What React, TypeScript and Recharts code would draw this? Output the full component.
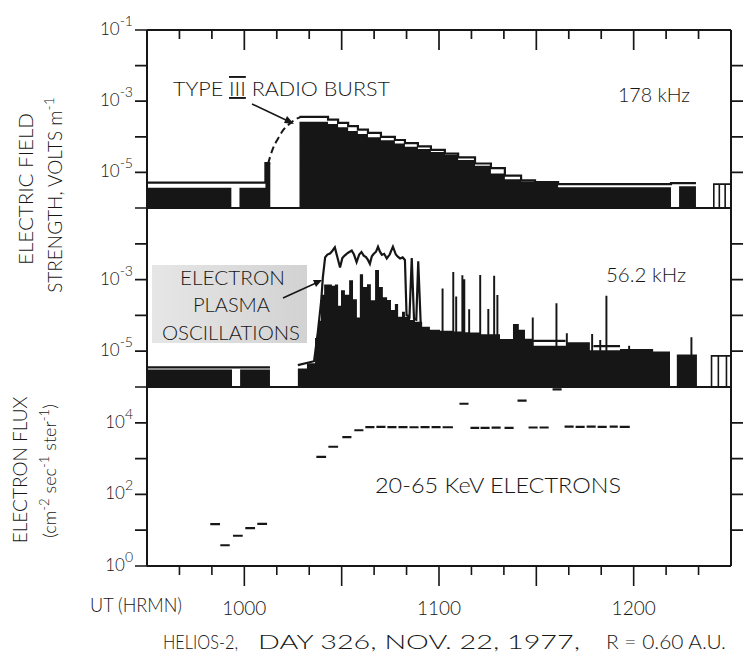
import React from 'react';
import { ComposedChart, Area, Line, XAxis, YAxis, ReferenceLine } from 'recharts';

type Pt = [number, number | null];

const FONT = "Lato, 'Open Sans', 'DejaVu Sans', sans-serif";
const INK = '#161616';

// Time axis: UT in minutes after midnight (570 = 09:30, 750 = 12:30)
const timeTicks = [570, 580, 590, 600, 610, 620, 630, 640, 650, 660, 670, 680, 690, 700, 710, 720, 730, 740, 750];
const hourLabels: Record<number, string> = { 600: '1000', 660: '1100', 720: '1200' };

// Electric field axes: log10(E, V/m)
const fieldTicks = [-6, -5, -4, -3, -2, -1];
const fieldInner = [-5, -4, -3, -2];
const field178Labels = [-1, -3, -5];
const field56Labels = [-3, -5];
// Flux axis: log10(flux)
const fluxTicks = [0, 1, 2, 3, 4, 5];
const fluxInner = [1, 2, 3, 4];
const fluxLabels = [0, 2, 4];

// 178 kHz, [UT min, log10 E]; stepped average (fill) and peak (line); null = no data
const burst178Fill: Pt[] = [
  [570, -5.43], [596, -5.43], [596.1, null], [598.5, -5.43], [606.5, -4.74], [608, -4.74], [608.1, null],
  [617, -3.58], [625.8, -3.64], [628.9, -3.73], [632, -3.84], [635, -3.92], [638.1, -4.01], [642.1, -4.1],
  [646.4, -4.19], [649.5, -4.28], [653.5, -4.34], [657.5, -4.43], [661.8, -4.51], [665.9, -4.65],
  [671.1, -4.81], [676, -5.03], [680.3, -5.19], [685.3, -5.25], [689.6, -5.3], [696.7, -5.42],
  [731.5, -5.42], [731.6, null], [734, -5.39], [739.2, -5.39], [739.3, null],
];
const burst178Peak: Pt[] = [
  [570, -5.29], [606.5, -4.74], [608, -4.74], [608.1, null],
  [617, -3.44], [625.8, -3.52], [628.9, -3.61], [632, -3.7], [635, -3.8], [638.1, -3.89], [642.1, -4.0],
  [646.4, -4.09], [649.5, -4.18], [653.5, -4.27], [657.5, -4.37], [661.8, -4.47], [665.9, -4.58],
  [671.1, -4.75], [676, -4.88], [680.3, -5.09], [685.3, -5.22], [689.6, -5.27], [696.7, -5.33],
  [731.5, -5.3], [739.2, -5.3], [739.3, null],
];
const burst178Hollow: Pt[] = [
  [744.7, -6], [744.7, -5.33], [746.4, -5.33], [746.4, -6], [746.4, -5.33], [748.2, -5.33], [748.2, -6],
  [748.2, -5.33], [750, -5.33],
];
const burstDashed: Pt[] = [
  [607.3, -4.76], [608.8, -4.33], [610.4, -4.05], [611.9, -3.82], [614.0, -3.63], [616.0, -3.5], [617.5, -3.44],
];

// 56.2 kHz, [UT min, log10 E]
const wave56Fill: Pt[] = [
  [570, -5.51], [596.2, -5.51], [596.3, null], [598.7, -5.51], [607.9, -5.51], [608, null],
  [616.5, -5.48], [619.3, -5.34], [621.8, -4.63], [622.7, -4.15], [623.6, -3.42], [624.6, -3.14],
  [627.0, -3.17], [627.9, -3.14], [628.9, -3.73], [629.8, -3.3], [631.0, -3.42], [632.3, -3.02],
  [633.5, -3.55], [634.7, -4.06], [635.6, -2.85], [636.6, -3.21], [637.8, -3.13], [639.0, -3.58],
  [640.3, -2.73], [641.5, -3.21], [642.7, -3.49], [644.0, -3.57], [645.2, -3.85], [646.4, -3.68],
  [647.4, -4.04], [648.6, -3.9], [649.5, -4.04], [651.1, -4.13], [652.6, -4.18], [654.8, -4.32],
  [657.2, -4.4], [660.3, -4.43], [660.8, -3.25], [661.4, -4.43], [664.1, -2.79], [664.7, -4.45],
  [665.0, -3.47], [665.6, -4.45], [666.9, -2.88], [667.5, -2.99], [668.1, -4.47], [669.0, -3.83],
  [669.6, -4.48], [672.4, -2.87], [673.0, -4.53], [674.9, -3.82], [675.5, -4.53], [676.7, -2.89],
  [677.3, -4.53], [677.7, -3.43], [678.3, -4.53], [678.8, -4.66], [682.8, -4.24], [684.6, -4.4],
  [686.5, -4.65], [688.6, -4.06], [689.2, -4.85], [695.9, -3.66], [696.5, -4.85], [699.1, -4.5],
  [699.7, -4.75], [706.5, -4.97], [706.9, -4.52], [707.5, -4.97], [709.4, -4.69], [710.0, -4.97],
  [711.3, -3.45], [711.9, -4.97], [715.8, -4.94], [718.3, -4.85], [718.9, -4.94], [726.0, -5.01],
  [731.2, -5.01], [731.3, null], [733.3, -5.09], [737.5, -4.61], [738.1, -5.09], [739.5, -5.09], [739.6, null],
];
const wave56Peak: Pt[] = [
  [570, -5.45], [607.9, -5.45], [608, null],
  [616.5, -5.39], [621.5, -5.28], [622.7, -4.43], [623.7, -3.59], [624.2, -2.94], [624.9, -2.38],
  [625.6, -2.3], [626.4, -2.27], [627.1, -2.2], [627.9, -2.1], [628.6, -2.35], [629.5, -2.66], [630.2, -2.4],
  [631.0, -2.32], [632.0, -2.25], [633.1, -2.19], [633.8, -2.3], [634.6, -2.51], [635.4, -2.3], [636.1, -2.23],
  [636.8, -2.33], [637.5, -2.37], [638.1, -2.45], [638.7, -2.56], [639.3, -2.35], [639.9, -2.28], [640.6, -2.22],
  [641.2, -2.08], [641.8, -2.22], [642.4, -2.31], [643.1, -2.28], [643.9, -2.41], [644.8, -2.3], [645.8, -2.08],
  [646.7, -2.3], [647.3, -2.36], [648.0, -2.41], [648.8, -2.38], [649.5, -2.45], [650.0, -3.99],
  [650.9, -4.04], [651.6, -2.4], [652.3, -4.1], [653.0, -4.12], [653.6, -2.49], [654.4, -4.32], [654.5, null],
  [689.0, -4.71], [699.0, -4.71], [699.1, null],
  [707.6, -4.86], [715.8, -4.86], [715.9, null],
];
const wave56Hollow: Pt[] = [
  [744.0, -6], [744.0, -5.13], [746.1, -5.13], [746.1, -6], [746.1, -5.13], [748.6, -5.13], [748.6, -6],
  [748.6, -5.13], [750, -5.13],
];

// 20-65 keV electron flux (cm^-2 s^-1 sr^-1), one sample per interval
const fluxStart = [589.5, 592.6, 596.5, 600.3, 604.0, 622.2, 625.9, 630.2, 633.9, 637.3, 640.7, 644.1, 647.5,
  650.9, 654.3, 657.7, 661.1, 666.3, 669.7, 672.8, 676.2, 680.2, 684.2, 687.6, 691.0, 695.0, 698.7, 702.1,
  705.5, 708.9, 712.6, 715.7];
const fluxEnd = [592.5, 595.5, 599.5, 603.3, 607.0, 625.2, 628.9, 633.0, 636.7, 640.1, 643.5, 646.9, 650.3,
  653.7, 657.1, 660.5, 664.3, 669.1, 672.4, 675.6, 679.0, 683.0, 687.0, 690.4, 693.8, 697.8, 701.5, 704.9,
  708.3, 711.7, 715.1, 718.8];
const fluxValue = [14.7, 3.8, 7.0, 11.4, 15, 1120, 2140, 4000, 6200, 7600, 7700, 7600, 7600, 7500, 7600, 7600,
  7500, 34000, 7200, 7200, 7300, 7200, 41500, 7400, 7400, 86000, 7800, 7700, 7800, 7700, 7800, 7700];

const rows = (pts: Pt[]) => pts.map(([t, v]) => ({ t, v }));
const fluxRows: { t: number; v: number | null }[] = [];
fluxStart.forEach((s, i) => {
  const v = Math.log10(fluxValue[i]);
  fluxRows.push({ t: s, v }, { t: fluxEnd[i], v }, { t: fluxEnd[i] + 0.05, v: null });
});

// ---- layout ----
const W = 746;
const PLOT_LEFT = 147;
const PLOT_RIGHT = 731;
const LEFT_AXIS_W = 80;
const T0 = 570;
const T1 = 750;
const PX_PER_MIN = (PLOT_RIGHT - PLOT_LEFT) / (T1 - T0);
const SHORT = 9;
const LONG = 20;
const SIDE = 12;

type Panel = { top: number; bottom: number; dom: [number, number]; ticks: number[]; inner: number[] };
const panels: Panel[] = [
  { top: 30, bottom: 208, dom: [-6, -1], ticks: fieldTicks, inner: fieldInner },
  { top: 208, bottom: 387, dom: [-6, -1], ticks: fieldTicks, inner: fieldInner },
  { top: 387, bottom: 566, dom: [0, 5], ticks: fluxTicks, inner: fluxInner },
];
const tickLen = (t: number) => (t % 30 === 0 ? LONG : SHORT);
const xOf = (t: number) => PLOT_LEFT + (t - T0) * PX_PER_MIN;
const yOf = (p: Panel, v: number) => p.bottom - ((v - p.dom[0]) / (p.dom[1] - p.dom[0])) * (p.bottom - p.top);

const markProps = { stroke: INK, strokeWidth: 1.6, ifOverflow: 'visible' as const, xAxisId: 'bot', yAxisId: 'l' };
const innerTimes = timeTicks.filter((t) => t > T0 && t < T1);

// bottom time marks of the flux panel, drawn through the chart scales (below the frame)
const pxPerDecade3 = (panels[2].bottom - panels[2].top) / 5;
const bottomMarks = innerTimes.map((t) => (
  <ReferenceLine key={`b${t}`} {...markProps}
    segment={[{ x: t, y: 0 }, { x: t, y: -tickLen(t) / pxPerDecade3 }]} />
));

// frame marks: inward on the top frame, outward on both sides
const topMarkPath = innerTimes.map((t) => `M${xOf(t)},${panels[0].top}V${panels[0].top + tickLen(t)}`).join('');
const leftMarkPath = panels
  .map((p) => p.ticks.map((v) => `M${PLOT_LEFT - SIDE},${yOf(p, v)}H${PLOT_LEFT}`).join(''))
  .join('');
const rightMarkPath = panels
  .map((p) => p.inner.map((v) => `M${PLOT_RIGHT},${yOf(p, v)}H${PLOT_RIGHT + SIDE}`).join(''))
  .join('');

const BottomTick = (p: any) => {
  const v = p.payload.value;
  if (!hourLabels[v]) return <g />;
  return (
    <text x={p.x} y={p.y + 49} textAnchor="middle" fontFamily={FONT} fontWeight={300} fontSize={19} fill={INK}>
      {hourLabels[v]}
    </text>
  );
};
const leftTick = (labels: number[]) => (p: any) => {
  const v = p.payload.value;
  if (!labels.includes(v)) return <g />;
  return (
    <text x={p.x - 14} y={p.y + 5} textAnchor="end" fontFamily={FONT} fontWeight={300} fontSize={17} fill={INK}>
      10<tspan dy={-9} fontSize={14}>{String(v)}</tspan>
    </text>
  );
};
const EmptyTick = () => <g />;

const axisLine = { stroke: INK, strokeWidth: 2 };

const xCommon = {
  type: 'number' as const,
  dataKey: 't',
  domain: [T0, T1] as [number, number],
  allowDataOverflow: true,
  axisLine,
  tickLine: false,
  tickSize: 0,
  tickMargin: 0,
};
const margin = (top: number) => ({ top, right: 0, bottom: 0, left: PLOT_LEFT - LEFT_AXIS_W });

const leftY = (domain: [number, number], ticks: number[], labels: number[]) => (
  <YAxis yAxisId="l" orientation="left" type="number" domain={domain} ticks={ticks} interval={0}
    allowDataOverflow tick={leftTick(labels)} tickLine={false} tickSize={0} tickMargin={0} width={LEFT_AXIS_W}
    axisLine={axisLine} />
);
const rightY = (domain: [number, number]) => (
  <YAxis yAxisId="r" orientation="right" type="number" domain={domain} tick={EmptyTick} tickLine={false}
    allowDataOverflow width={W - PLOT_RIGHT} axisLine={axisLine} />
);

export default function App() {
  return (
    <div style={{ position: 'absolute', left: 0, top: 0, width: W, height: 656, background: '#fff', overflow: 'hidden' }}>
      <div style={{ position: 'absolute', left: 0, top: 0 }}>
        <ComposedChart width={W} height={209} margin={margin(0)}>
          <XAxis xAxisId="top" orientation="top" {...xCommon} tick={EmptyTick} height={30} />
          <XAxis xAxisId="bot" orientation="bottom" {...xCommon} tick={EmptyTick} height={1} />
          {leftY([-6, -1], fieldTicks, field178Labels)}
          {rightY([-6, -1])}
          <Area xAxisId="bot" yAxisId="l" data={rows(burst178Fill)} dataKey="v" type="stepAfter" baseValue={-6}
            fill={INK} fillOpacity={1} stroke="none" dot={false} activeDot={false} isAnimationActive={false} />
          <Line xAxisId="bot" yAxisId="l" data={rows(burst178Peak)} dataKey="v" type="stepAfter" stroke={INK}
            strokeWidth={2.2} dot={false} activeDot={false} isAnimationActive={false} />
          <Line xAxisId="bot" yAxisId="l" data={rows(burst178Hollow)} dataKey="v" type="linear" stroke={INK}
            strokeWidth={1.6} dot={false} activeDot={false} isAnimationActive={false} />
          <Line xAxisId="bot" yAxisId="l" data={rows(burstDashed)} dataKey="v" type="monotone" stroke={INK}
            strokeWidth={2} strokeDasharray="7 4" dot={false} activeDot={false} isAnimationActive={false} />
        </ComposedChart>
      </div>
      <div style={{ position: 'absolute', left: 0, top: 200 }}>
        <ComposedChart width={W} height={188} margin={margin(8)}>
          <XAxis xAxisId="bot" orientation="bottom" {...xCommon} tick={EmptyTick} height={1} />
          {leftY([-6, -1], fieldTicks, field56Labels)}
          {rightY([-6, -1])}
          <Area xAxisId="bot" yAxisId="l" data={rows(wave56Fill)} dataKey="v" type="stepAfter" baseValue={-6}
            fill={INK} fillOpacity={1} stroke="none" dot={false} activeDot={false} isAnimationActive={false} />
          <Line xAxisId="bot" yAxisId="l" data={rows(wave56Peak)} dataKey="v" type="linear" stroke={INK}
            strokeWidth={2.2} dot={false} activeDot={false} isAnimationActive={false} />
          <Line xAxisId="bot" yAxisId="l" data={rows(wave56Hollow)} dataKey="v" type="linear" stroke={INK}
            strokeWidth={1.6} dot={false} activeDot={false} isAnimationActive={false} />
        </ComposedChart>
      </div>
      <div style={{ position: 'absolute', left: 0, top: 380 }}>
        <ComposedChart width={W} height={276} margin={margin(7)}>
          <XAxis xAxisId="bot" orientation="bottom" {...xCommon} ticks={timeTicks} interval={0} tick={BottomTick} height={90} />
          {leftY([0, 5], fluxTicks, fluxLabels)}
          {rightY([0, 5])}
          <Line xAxisId="bot" yAxisId="l" data={fluxRows} dataKey="v" type="linear" stroke={INK}
            strokeWidth={2.2} dot={false} activeDot={false} isAnimationActive={false} />
          {bottomMarks}
        </ComposedChart>
      </div>
      <svg width={W} height={656} style={{ position: 'absolute', left: 0, top: 0, pointerEvents: 'none' }}
        fontFamily={FONT} fontWeight={300} fill={INK}>
        <defs>
          <linearGradient id="plate" x1="0" x2="1" y1="0" y2="0">
            <stop offset="0" stopColor="#e6e6e6" />
            <stop offset="1" stopColor="#d2d2d2" />
          </linearGradient>
        </defs>
        <rect x={152} y={265} width={155} height={78} fill="url(#plate)" />
        <path d={topMarkPath} stroke={INK} strokeWidth={1.7} fill="none" />
        <path d={leftMarkPath} stroke={INK} strokeWidth={1.7} fill="none" />
        <path d={rightMarkPath} stroke={INK} strokeWidth={1.7} fill="none" />
        <text transform="translate(33,189) rotate(-90)" textAnchor="middle" fontSize={19} textLength={152}
          lengthAdjust="spacingAndGlyphs">ELECTRIC FIELD</text>
        <text transform="translate(62,195) rotate(-90)" textAnchor="middle" fontSize={19}>
          STRENGTH, VOLTS m<tspan dy={-8} fontSize={14}>-1</tspan>
        </text>
        <text transform="translate(27,470) rotate(-90)" textAnchor="middle" fontSize={19}>ELECTRON FLUX</text>
        <text transform="translate(56,471) rotate(-90)" textAnchor="middle" fontSize={18}>
          (cm<tspan dy={-7} fontSize={13}>-2</tspan><tspan dy={7}> sec</tspan><tspan dy={-7} fontSize={13}>-1</tspan>
          <tspan dy={7}> ster</tspan><tspan dy={-7} fontSize={13}>-1</tspan><tspan dy={7}>)</tspan>
        </text>
        <text x={173} y={96} fontSize={19} textLength={217} lengthAdjust="spacingAndGlyphs">
          TYPE <tspan style={{ textDecoration: 'underline overline' }}>III</tspan> RADIO BURST
        </text>
        <line x1={252} y1={104} x2={288} y2={121} stroke={INK} strokeWidth={1.5} />
        <polygon points="294,124 284,123 287,116" fill={INK} />
        <text x={618} y={102} fontSize={20} textLength={72} lengthAdjust="spacingAndGlyphs">178 kHz</text>
        <text x={606} y={282} fontSize={20} textLength={80} lengthAdjust="spacingAndGlyphs">56.2 kHz</text>
        <text x={180} y={285} fontSize={19} textLength={105} lengthAdjust="spacingAndGlyphs">ELECTRON</text>
        <text x={193} y={312} fontSize={19} textLength={77} lengthAdjust="spacingAndGlyphs">PLASMA</text>
        <text x={162} y={340} fontSize={19} textLength={138} lengthAdjust="spacingAndGlyphs">OSCILLATIONS</text>
        <line x1={283} y1={298} x2={316} y2={283} stroke={INK} strokeWidth={1.5} />
        <polygon points="322,280 313,280 316,287" fill={INK} />
        <text x={375} y={493} fontSize={21} textLength={246} lengthAdjust="spacingAndGlyphs">20-65 KeV ELECTRONS</text>
        <text x={90} y={612} fontSize={20} textLength={92} lengthAdjust="spacingAndGlyphs">UT (HRMN)</text>
        <text x={163} y={649} fontSize={20} textLength={75} lengthAdjust="spacingAndGlyphs">HELIOS-2,</text>
        <text x={258} y={649} fontSize={20} textLength={322} lengthAdjust="spacingAndGlyphs">DAY 326, NOV. 22, 1977,</text>
        <text x={606} y={649} fontSize={20} textLength={120} lengthAdjust="spacingAndGlyphs">R = 0.60 A.U.</text>
      </svg>
    </div>
  );
}
